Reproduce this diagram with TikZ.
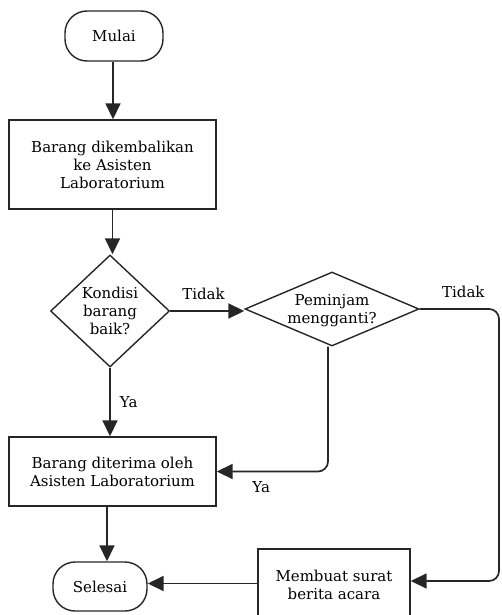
\documentclass[tikz,border=0pt]{standalone}
\usepackage{fontspec}
\setmainfont{DejaVu Serif}
\usetikzlibrary{arrows.meta,shapes.geometric}
\begin{document}
\begin{tikzpicture}[x=1pt,y=-1pt,
  every node/.style={font=\fontsize{15}{18}\selectfont, align=center, inner sep=0pt},
  base/.style={draw=black!85, line width=1.4pt},
  term/.style={base, rounded corners=22pt, minimum width=#1, minimum height=50pt},
  proc/.style={base, minimum width=#1},
  conn/.style={line width=1.7pt, draw=black!85, -{Triangle[length=16pt,width=15pt]}, rounded corners=10pt},
  lbl/.style={font=\fontsize{15}{17}\selectfont}]
\useasboundingbox (0,0) rectangle (501,615);
\node[term=98pt] (mulai) at (114,36) {Mulai};
\node[proc=207pt, minimum height=89pt] (b1) at (112.5,164.5) {Barang dikembalikan\\ke Asisten\\Laboratorium};
\node[base, diamond, minimum width=119pt, minimum height=112pt] (d1) at (110,311) {};
\node at (110,311) {Kondisi\\barang\\baik?};
\node[base, diamond, minimum width=174pt, minimum height=74pt] (d2) at (332,309) {};
\node at (332,311) {Peminjam\\mengganti?};
\node[proc=207pt, minimum height=69pt] (b2) at (112.5,471.5) {Barang diterima oleh\\Asisten Laboratorium};
\node[term=94pt, minimum height=49pt] (sel) at (100,586.5) {Selesai};
\node[proc=152pt, minimum height=72pt] (b3) at (334,585) {Membuat surat\\berita acara};
\coordinate (rc) at (499,309);
\draw[conn] ([xshift=-1pt]mulai.south) -- ([xshift=-1pt]mulai.south |- b1.north);
\draw[conn] (b1.south) -- (b1.south |- d1.north);
\draw[conn] (d1.east) -- (d1.east -| d2.west) node[lbl, pos=0.45, above=10pt] {Tidak};
\draw[conn] (d1.south) -- (d1.south |- b2.north) node[lbl, pos=0.5, right=9pt] {Ya};
\draw[conn] ([xshift=-4pt]d2.south) |- (b2.east) node[lbl, pos=0.8, below=9pt] {Ya};
\draw[conn] (d2.east) -- (rc) node[lbl, pos=0.55, above=10pt] {Tidak} |- ([yshift=4pt]b3.east);
\draw[conn] ([xshift=7pt]b2.south -| sel.north) -- ([xshift=7pt]sel.north);
\draw[conn] ([yshift=3pt]b3.west |- sel.east) -- ([yshift=3pt]sel.east);
\end{tikzpicture}
\end{document}
